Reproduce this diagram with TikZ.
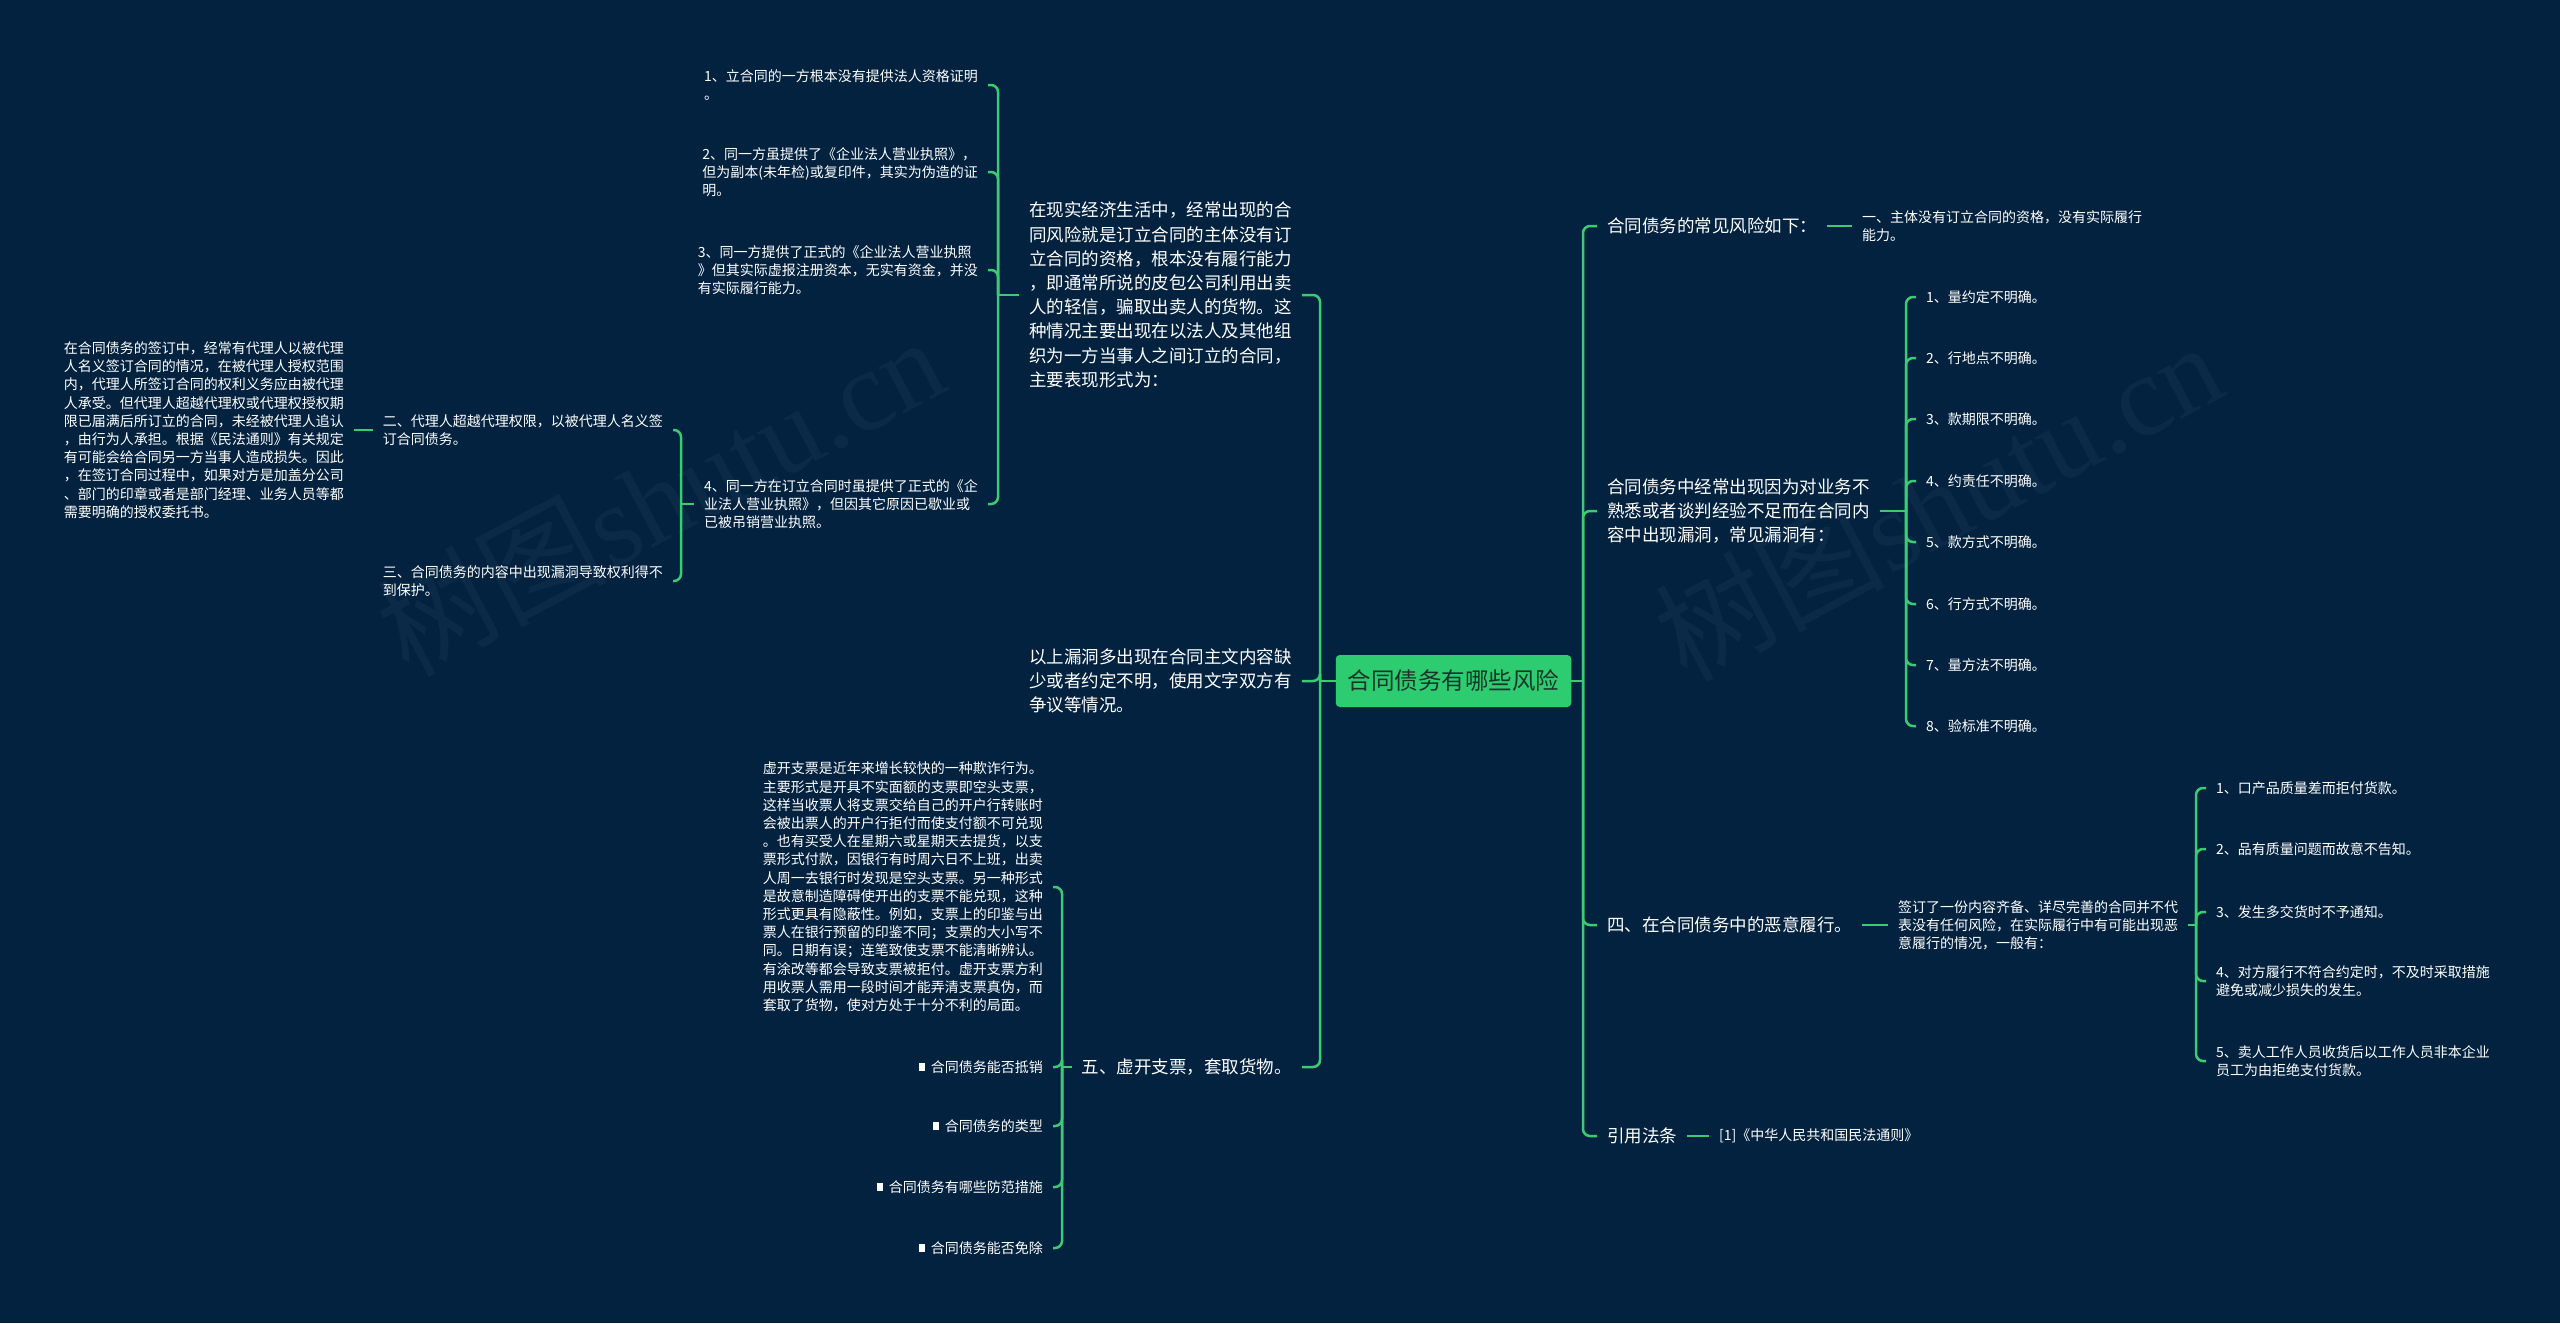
\documentclass[tikz,border=0pt]{standalone}
\usepackage{fontspec}
\setmainfont{Noto Sans CJK SC}
\newfontfamily\wmserif{Liberation Serif}
\usepackage{tikz}

\definecolor{pagebg}{HTML}{03223F}
\definecolor{linkgreen}{HTML}{3ACB73}
\definecolor{rootgreen}{HTML}{2ECC71}
\definecolor{rootink}{HTML}{173528}
\definecolor{wmgrey}{HTML}{0A2A47}

\newcommand{\sqbullet}{\rule[0.12em]{0.45em}{0.55em}\hspace{0.4em}}

\tikzset{
  mindtext/.style={text=white, align=left, inner xsep=10pt, inner ysep=2pt},
  topic/.style={mindtext, font=\fontsize{17.5}{24.2}\selectfont},
  leaf/.style={mindtext, font=\fontsize{14}{18.2}\selectfont},
  rootbox/.style={fill=rootgreen, text=rootink, rounded corners=4pt, inner xsep=12pt,
    minimum height=52pt, font=\fontsize{23.5}{28}\selectfont},
  link/.style={draw=linkgreen, line width=2.5pt, rounded corners=7pt},
  watermark/.style={text=wmgrey, font=\fontsize{115}{125}\selectfont},
}

\begin{document}
\begin{tikzpicture}[x=1pt,y=-1pt]
    \fill[pagebg] (0,0) rectangle (2560,1323);
    \useasboundingbox (0,0) rectangle (2560,1323);

    % watermarks
    \node[watermark, rotate=28] (wm1) at (660,495) {树图{\wmserif shutu.cn}};
    \node[watermark, rotate=28] (wm2) at (1938,500) {树图{\wmserif shutu.cn}};

    \node[rootbox] (root) at (1453.5,681) {合同债务有哪些风险};
    \coordinate (jL) at (1320,681);
    \coordinate (jR) at (1583,681);

    % left side
    \node[topic, anchor=east] (lxs) at (1302,295) {在现实经济生活中，经常出现的合\\同风险就是订立合同的主体没有订\\立合同的资格，根本没有履行能力\\，即通常所说的皮包公司利用出卖\\人的轻信，骗取出卖人的货物。这\\种情况主要出现在以法人及其他组\\织为一方当事人之间订立的合同，\\主要表现形式为：};
    \coordinate (jxs) at (998,295);
    \node[leaf, anchor=east] (lxs1) at (988,85) {1、立合同的一方根本没有提供法人资格证明\\。};
    \node[leaf, anchor=east] (lxs2) at (988,172) {2、同一方虽提供了《企业法人营业执照》，\\但为副本(未年检)或复印件，其实为伪造的证\\明。};
    \node[leaf, anchor=east] (lxs3) at (988,270) {3、同一方提供了正式的《企业法人营业执照\\》但其实际虚报注册资本，无实有资金，并没\\有实际履行能力。};
    \node[leaf, anchor=east] (lxs4) at (988,504) {4、同一方在订立合同时虽提供了正式的《企\\业法人营业执照》，但因其它原因已歇业或\\已被吊销营业执照。};
    \coordinate (jdl) at (681,504);
    \node[leaf, anchor=east] (ldl) at (673,430) {二、代理人超越代理权限，以被代理人名义签\\订合同债务。};
    \node[leaf, anchor=east] (lnr) at (673,581) {三、合同债务的内容中出现漏洞导致权利得不\\到保护。};
    \node[leaf, anchor=east] (lqd) at (354,430) {在合同债务的签订中，经常有代理人以被代理\\人名义签订合同的情况，在被代理人授权范围\\内，代理人所签订合同的权利义务应由被代理\\人承受。但代理人超越代理权或代理权授权期\\限已届满后所订立的合同，未经被代理人追认\\，由行为人承担。根据《民法通则》有关规定\\有可能会给合同另一方当事人造成损失。因此\\，在签订合同过程中，如果对方是加盖分公司\\、部门的印章或者是部门经理、业务人员等都\\需要明确的授权委托书。};

    \node[topic, anchor=east] (lsl) at (1302,681) {以上漏洞多出现在合同主文内容缺\\少或者约定不明，使用文字双方有\\争议等情况。};

    \node[topic, anchor=east] (lxk) at (1302,1067) {五、虚开支票，套取货物。};
    \coordinate (jxk) at (1062,1067);
    \node[leaf, anchor=east] (lxp) at (1053,887) {虚开支票是近年来增长较快的一种欺诈行为。\\主要形式是开具不实面额的支票即空头支票，\\这样当收票人将支票交给自己的开户行转账时\\会被出票人的开户行拒付而使支付额不可兑现\\。也有买受人在星期六或星期天去提货，以支\\票形式付款，因银行有时周六日不上班，出卖\\人周一去银行时发现是空头支票。另一种形式\\是故意制造障碍使开出的支票不能兑现，这种\\形式更具有隐蔽性。例如，支票上的印鉴与出\\票人在银行预留的印鉴不同；支票的大小写不\\同。日期有误；连笔致使支票不能清晰辨认。\\有涂改等都会导致支票被拒付。虚开支票方利\\用收票人需用一段时间才能弄清支票真伪，而\\套取了货物，使对方处于十分不利的局面。};
    \node[leaf, anchor=east] (lbl1) at (1053,1067) {\sqbullet 合同债务能否抵销};
    \node[leaf, anchor=east] (lbl2) at (1053,1126) {\sqbullet 合同债务的类型};
    \node[leaf, anchor=east] (lbl3) at (1053,1187) {\sqbullet 合同债务有哪些防范措施};
    \node[leaf, anchor=east] (lbl4) at (1053,1248) {\sqbullet 合同债务能否免除};

    % right side
    \node[topic, anchor=west] (rsk) at (1597,226) {合同债务的常见风险如下：};
    \node[leaf, anchor=west] (rzt) at (1852,226) {一、主体没有订立合同的资格，没有实际履行\\能力。};

    \node[topic, anchor=west] (rld) at (1597,511) {合同债务中经常出现因为对业务不\\熟悉或者谈判经验不足而在合同内\\容中出现漏洞，常见漏洞有：};
    \coordinate (jld) at (1906,511);
    \node[leaf, anchor=west] (ld1) at (1916,297) {1、量约定不明确。};
    \node[leaf, anchor=west] (ld2) at (1916,358) {2、行地点不明确。};
    \node[leaf, anchor=west] (ld3) at (1916,419) {3、款期限不明确。};
    \node[leaf, anchor=west] (ld4) at (1916,481) {4、约责任不明确。};
    \node[leaf, anchor=west] (ld5) at (1916,542) {5、款方式不明确。};
    \node[leaf, anchor=west] (ld6) at (1916,604) {6、行方式不明确。};
    \node[leaf, anchor=west] (ld7) at (1916,665) {7、量方法不明确。};
    \node[leaf, anchor=west] (ld8) at (1916,726) {8、验标准不明确。};

    \node[topic, anchor=west] (rey) at (1597,925) {四、在合同债务中的恶意履行。};
    \node[leaf, anchor=west] (rqd) at (1888,925) {签订了一份内容齐备、详尽完善的合同并不代\\表没有任何风险，在实际履行中有可能出现恶\\意履行的情况，一般有：};
    \coordinate (jqd) at (2196,925);
    \node[leaf, anchor=west] (ey1) at (2206,788) {1、口产品质量差而拒付货款。};
    \node[leaf, anchor=west] (ey2) at (2206,849) {2、品有质量问题而故意不告知。};
    \node[leaf, anchor=west] (ey3) at (2206,912) {3、发生多交货时不予通知。};
    \node[leaf, anchor=west] (ey4) at (2206,981) {4、对方履行不符合约定时，不及时采取措施\\避免或减少损失的发生。};
    \node[leaf, anchor=west] (ey5) at (2206,1061) {5、卖人工作人员收货后以工作人员非本企业\\员工为由拒绝支付货款。};

    \node[topic, anchor=west] (ryf) at (1597,1136) {引用法条};
    \node[leaf, anchor=west] (rfl) at (1709,1136) {[1]《中华人民共和国民法通则》};

    % connectors
    \draw[link] (root.west) -- (jL);
    \draw[link] (root.east) -- (jR);
    \draw[link] (jL) |- (lxs.east);
    \draw[link] (jL) |- (lsl.east);
    \draw[link] (jL) |- (lxk.east);
    \draw[link] (lxs.west) -- (jxs);
    \draw[link] (jxs) |- (lxs1.east);
    \draw[link] (jxs) |- (lxs2.east);
    \draw[link] (jxs) |- (lxs3.east);
    \draw[link] (jxs) |- (lxs4.east);
    \draw[link] (lxs4.west) -- (jdl);
    \draw[link] (jdl) |- (ldl.east);
    \draw[link] (jdl) |- (lnr.east);
    \draw[link] (ldl.west) -- (lqd.east);
    \draw[link] (lxk.west) -- (jxk);
    \draw[link] (jxk) |- (lxp.east);
    \draw[link] (jxk) |- (lbl1.east);
    \draw[link] (jxk) |- (lbl2.east);
    \draw[link] (jxk) |- (lbl3.east);
    \draw[link] (jxk) |- (lbl4.east);

    \draw[link] (jR) |- (rsk.west);
    \draw[link] (jR) |- (rld.west);
    \draw[link] (jR) |- (rey.west);
    \draw[link] (jR) |- (ryf.west);
    \draw[link] (rsk.east) -- (rzt.west);
    \draw[link] (rld.east) -- (jld);
    \draw[link] (jld) |- (ld1.west);
    \draw[link] (jld) |- (ld2.west);
    \draw[link] (jld) |- (ld3.west);
    \draw[link] (jld) |- (ld4.west);
    \draw[link] (jld) |- (ld5.west);
    \draw[link] (jld) |- (ld6.west);
    \draw[link] (jld) |- (ld7.west);
    \draw[link] (jld) |- (ld8.west);
    \draw[link] (rey.east) -- (rqd.west);
    \draw[link] (rqd.east) -- (jqd);
    \draw[link] (jqd) |- (ey1.west);
    \draw[link] (jqd) |- (ey2.west);
    \draw[link] (jqd) |- (ey3.west);
    \draw[link] (jqd) |- (ey4.west);
    \draw[link] (jqd) |- (ey5.west);
    \draw[link] (ryf.east) -- (rfl.west);
\end{tikzpicture}
\end{document}
